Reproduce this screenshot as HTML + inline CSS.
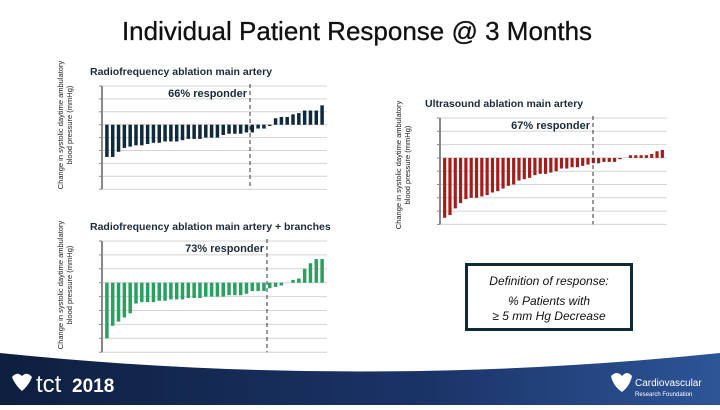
<!DOCTYPE html>
<html><head><meta charset="utf-8"><style>
body{margin:0;width:720px;height:405px;overflow:hidden;background:#fff;font-family:"Liberation Sans",sans-serif}
</style></head><body>
<svg id="s" width="720" height="405" viewBox="0 0 720 405" xmlns="http://www.w3.org/2000/svg">
<defs><linearGradient id="g" x1="0" x2="1" y1="0" y2="0"><stop offset="0" stop-color="#0e1f3f"/><stop offset="0.6" stop-color="#1b3468"/><stop offset="1" stop-color="#2d5597"/></linearGradient></defs>
<text x="357" y="40" text-anchor="middle" font-size="26" fill="#111" stroke="#111" stroke-width="0.3">Individual Patient Response @ 3 Months</text>
<g id="c1"></g>
<g id="c2"></g>
<g id="c3"></g>
<g>
<rect x="466.5" y="264.5" width="165" height="65" fill="#fff" stroke="#0f2a3c" stroke-width="3"/>
<text x="549" y="285" text-anchor="middle" font-size="12" font-style="italic" fill="#111">Definition of response:</text>
<text x="549" y="305" text-anchor="middle" font-size="12" font-style="italic" fill="#111">% Patients with</text>
<text x="549" y="320" text-anchor="middle" font-size="12" font-style="italic" fill="#111">≥ 5 mm Hg Decrease</text>
</g>
<path d="M0 353 Q360 390 720 353 L720 405 L0 405 Z" fill="url(#g)"/>
<g>
<path d="M12 377 q5-6 10-1 q5-5 10 1 q-3 8 -10 14 q-7 -6 -10 -14z" fill="#fff"/>
<text x="36" y="392" font-size="24" fill="#fff">tct</text><text x="72" y="392" font-size="19" font-weight="bold" fill="#fff">2018</text>
</g>
<g>
<path d="M611 376 q6-6 11 0 q5-6 10 0 q-2 10 -10 16 q-9 -6 -11 -16z" fill="#fff"/>
<text x="635" y="386" font-size="10" fill="#fff">Cardiovascular</text><text x="635" y="396" font-size="6" fill="#fff">Research Foundation</text>
</g>
</svg>
<script>
const c1Values=[-25,-25,-21,-18,-17,-16,-16,-15,-14,-14,-13,-13,-13,-12,-11,-11,-11,-10,-10,-10,-8,-7,-7,-7,-6,-6,-3,-3,-1,5,6,6,8,9,11,11,11,15];
const c2Values=[-40,-31,-28,-25,-22,-15,-14,-14,-14,-13,-13,-12,-12,-12,-11,-11,-11,-10,-10,-10,-10,-9,-9,-9,-8,-6,-6,-6,-4,-3,-2,0,2,3,10,14,17,17];
const c3Values=[-45,-43,-38,-34,-31,-30,-30,-29,-28,-26,-25,-23,-21,-20,-17,-16,-15,-13,-12,-12,-11,-10,-8,-8,-7,-7,-6,-5,-4,-4,-3,-3,-3,-1,0,2,2,2,2,3,5,6];
const titles=["Radiofrequency ablation main artery","Radiofrequency ablation main artery + branches","Ultrasound ablation main artery"];
const responders=["66% responder","73% responder","67% responder"];
const NS="http://www.w3.org/2000/svg";
function el(t,a,p){const e=document.createElementNS(NS,t);for(const k in a)e.setAttribute(k,a[k]);p.appendChild(e);return e;}
function chart(g,vals,cfg){
  const {x0,x1,top,step,color,dash,title,resp,tx,ty,ylx,yll}=cfg;
  const yScale=v=>top+3*step-v/10*step;
  for(let i=0;i<=8;i++){const l=el('line',{x1:x0,x2:x1,y1:top+i*step,y2:top+i*step,stroke:'#d4d4d4','stroke-width':1},g);
    
    el('line',{x1:x0-3,x2:x0,y1:top+i*step,y2:top+i*step,stroke:'#888'},g);}
  const ax=el('line',{x1:x0,x2:x0,y1:top,y2:top+8*step,stroke:'#888','stroke-width':2},g);
  
  const n=vals.length,bw=(x1-x0-4)/n;
  vals.forEach((v,i)=>{const x=x0+2+i*bw+bw*0.2;const y0=yScale(0),y=yScale(v);
    const r=el('rect',{x:x,y:Math.min(y0,y),width:bw*0.6,height:Math.abs(y-y0),fill:color},g);
    });
  const d=el('line',{x1:dash,x2:dash,y1:top-2,y2:top+8*step,stroke:'#333','stroke-dasharray':'4,3'},g);
  
  const t=el('text',{x:tx,y:ty,'font-size':10.5,'font-weight':'bold',fill:'#1c2b3a'},g);t.textContent=title;
  
  const r=el('text',{x:dash-3,y:top+11,'text-anchor':'end','font-size':11,'font-weight':'bold',fill:'#1c2b3a'},g);r.textContent=resp;
  
  const yl=el('text',{transform:`translate(${ylx},${yll}) rotate(-90)`,'text-anchor':'middle','font-size':7.5,fill:'#222'},g);
  
  const a=el('tspan',{x:0,dy:0},yl);a.textContent='Change in systolic daytime ambulatory';
  const b=el('tspan',{x:0,dy:9},yl);b.textContent='blood pressure (mmHg)';
}
chart(document.getElementById('c1'),c1Values,{x0:102,x1:327,top:86,step:12.9,color:'#0f2a3c',dash:250,title:titles[0],resp:responders[0],tx:90,ty:75,ylx:63,yll:125});
chart(document.getElementById('c2'),c2Values,{x0:102,x1:327,top:241,step:13.9,color:'#27a060',dash:267,title:titles[1],resp:responders[1],tx:90,ty:230,ylx:63,yll:285});
chart(document.getElementById('c3'),c3Values,{x0:440,x1:667,top:118,step:13.3,color:'#a51c1c',dash:593,title:titles[2],resp:responders[2],tx:425,ty:107,ylx:401,yll:165});
</script>
</body></html>
